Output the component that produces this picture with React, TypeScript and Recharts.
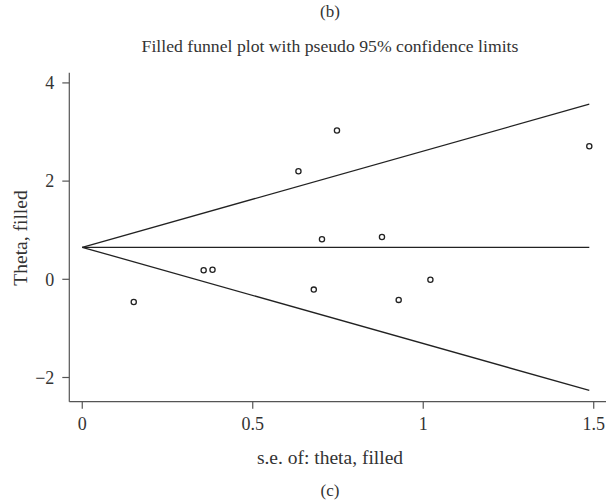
import React from 'react';
import { ComposedChart, Line, Scatter, XAxis, YAxis } from 'recharts';

// study points
const seValues = [0.151, 0.356, 0.382, 0.634, 0.747, 0.703, 0.679, 0.879, 0.928, 1.021, 1.487];
const thetaValues = [-0.462, 0.183, 0.196, 2.2, 3.03, 0.815, -0.21, 0.862, -0.42, -0.008, 2.71];

// pooled estimate and pseudo 95% limits at the largest s.e.
const pooledTheta = 0.652;
const seLimits = [0, 1.487];
const upperLimits = [0.652, 3.567];
const lowerLimits = [0.652, -2.263];

const xTicks = [0, 0.5, 1, 1.5];
const yTicks = [-2, 0, 2, 4];

const points = seValues.map((se, i) => ({ se, theta: thetaValues[i] }));
const centerLine = seLimits.map((se) => ({ se, theta: pooledTheta }));
const upperLine = seLimits.map((se, i) => ({ se, theta: upperLimits[i] }));
const lowerLine = seLimits.map((se, i) => ({ se, theta: lowerLimits[i] }));

const FONT = '"Liberation Serif", "DejaVu Serif", serif';
const INK = '#222';
const AXIS = '#555';

const hollowDot = (props: any) => (
  <circle cx={props.cx} cy={props.cy} r={2.6} fill="#fff" stroke={INK} strokeWidth={1.3} />
);

const fmtY = (v: number) => (v < 0 ? '\u2212' + Math.abs(v) : String(v));

const textStyle: React.CSSProperties = {
  position: 'absolute',
  left: 0,
  width: 660,
  textAlign: 'center',
  fontFamily: FONT,
  color: '#333',
  lineHeight: 1,
  whiteSpace: 'nowrap',
  zIndex: 1,
};

export default function App() {
  return (
    <div style={{ position: 'relative', width: 608, height: 503, overflow: 'hidden' }}>
      <style>{'html,body{margin:0;padding:0}'}</style>
      <ComposedChart
        width={608}
        height={503}
        margin={{ top: 72.7, right: 2, bottom: 41.3, left: 0 }}
      >
        <XAxis
          type="number"
          dataKey="se"
          domain={[-0.038, 1.536]}
          ticks={xTicks}
          allowDataOverflow
          axisLine={{ stroke: AXIS, strokeWidth: 1.2 }}
          tickLine={{ stroke: AXIS, strokeWidth: 1.2 }}
          tickSize={7}
          tickMargin={9}
          height={60}
          tick={{ fill: '#333', fontFamily: FONT, fontSize: 18 }}
        />
        <YAxis
          type="number"
          dataKey="theta"
          domain={[-2.493, 4.208]}
          ticks={yTicks}
          allowDataOverflow
          tickFormatter={fmtY}
          axisLine={{ stroke: AXIS, strokeWidth: 1.2 }}
          tickLine={{ stroke: AXIS, strokeWidth: 1.2 }}
          tickSize={7}
          tickMargin={8}
          width={69.3}
          tick={{ fill: '#333', fontFamily: FONT, fontSize: 18 }}
        />
        <Line data={upperLine} dataKey="theta" stroke={INK} strokeWidth={1.3} dot={false} isAnimationActive={false} />
        <Line data={centerLine} dataKey="theta" stroke={INK} strokeWidth={1.3} dot={false} isAnimationActive={false} />
        <Line data={lowerLine} dataKey="theta" stroke={INK} strokeWidth={1.3} dot={false} isAnimationActive={false} />
        <Scatter data={points} dataKey="theta" shape={hollowDot} isAnimationActive={false} />
      </ComposedChart>
      <div style={{ ...textStyle, top: 3, fontSize: 17 }}>(b)</div>
      <div style={{ ...textStyle, top: 38, fontSize: 17.7 }}>
        Filled funnel plot with pseudo 95% confidence limits
      </div>
      <div style={{ ...textStyle, top: 448, fontSize: 19.5 }}>s.e. of: theta, filled</div>
      <div style={{ ...textStyle, top: 481.5, fontSize: 17 }}>(c)</div>
      <div
        style={{
          position: 'absolute',
          left: 21,
          top: 237.5,
          transform: 'translate(-50%, -50%) rotate(-90deg)',
          fontFamily: FONT,
          fontSize: 19.5,
          color: '#333',
          lineHeight: 1,
          whiteSpace: 'nowrap',
          zIndex: 1,
        }}
      >
        Theta, filled
      </div>
    </div>
  );
}
